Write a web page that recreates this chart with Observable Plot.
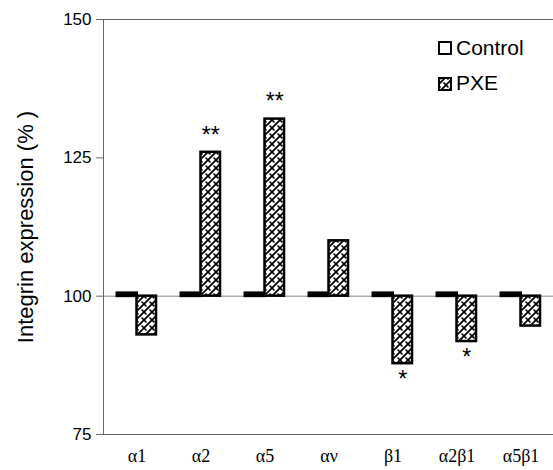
<!DOCTYPE html>
<html><head><meta charset="utf-8">
<script src="https://cdn.jsdelivr.net/npm/d3@7"></script>
<script src="https://cdn.jsdelivr.net/npm/@observablehq/plot@0.6"></script>
<style>
body{margin:0;background:#fff;}
#wrap{position:relative;width:553px;height:470px;font-family:"Liberation Sans",Arial,sans-serif;}
.sw{position:absolute;width:14px;height:14px;box-sizing:border-box;}
.lt{position:absolute;font-size:21px;line-height:20px;color:#000;white-space:nowrap;}
</style></head><body><div id="wrap"></div>
<script>
const categories = ["α1","α2","α5","αν","β1","α2β1","α5β1"];
const control = [100.5,100.5,100.5,100.5,100.5,100.5,100.5];
const pxe = [93,126,132,110,87.8,91.8,94.6];
const significance = ["","**","**","","*","*",""];
const yTicks = [75,100,125,150];
const seriesNames = ["Control","PXE"];
const yLabel = "Integrin expression (% )";

const rows = categories.map((c,i)=>({c, control:control[i], pxe:pxe[i], sig:significance[i]}));

const chart = Plot.plot({
  width:553, height:470, marginTop:19, marginBottom:36, marginLeft:103, marginRight:0,
  style:{fontFamily:"Liberation Sans, Arial, sans-serif", background:"#fff", color:"#000"},
  x:{domain:categories, paddingInner:0.393, paddingOuter:0.1965, label:null},
  y:{domain:[75,150], label:null},
  marks:[
    Plot.ruleY([100],{stroke:"#888", strokeWidth:1}),
    Plot.ruleY([75,150],{stroke:"#666", strokeWidth:1}),
    Plot.frame({anchor:"left", stroke:"#666"}),
    Plot.barY(rows,{x:"c", y1:100, y2:"control", insetRight:19.5, fill:"#fff", stroke:"#000", strokeWidth:3}),
    Plot.barY(rows,{x:"c", y1:100, y2:"pxe", insetLeft:19.5, fill:"url(#hatch)", stroke:"#000", strokeWidth:2.5}),
    Plot.text(rows.filter(d=>d.sig && d.pxe>100),{x:"c", y:"pxe", text:"sig", dx:9.75, dy:-17, fontSize:23}),
    Plot.text(rows.filter(d=>d.sig && d.pxe<100),{x:"c", y:"pxe", text:"sig", dx:9.75, dy:16, fontSize:23}),
    Plot.axisX({tickSize:0, tickPadding:15, fontSize:18, fontFamily:"Liberation Serif, Times New Roman, serif", label:null}),
    Plot.axisY({ticks:yTicks, tickSize:7, tickPadding:5, fontSize:17, label:null, stroke:"#666", fill:"#000"}),
    Plot.text([yLabel],{frameAnchor:"left", rotate:-90, dx:-71, lineAnchor:"bottom", textAnchor:"middle", fontSize:22})
  ]
});

const defs = document.createElementNS("http://www.w3.org/2000/svg","defs");
defs.innerHTML = `<pattern id="hatch" patternUnits="userSpaceOnUse" width="8" height="8">
<rect width="8" height="8" fill="#fff"/>
<path d="M0,8 L8,0 M-2,2 L2,-2 M6,10 L10,6" stroke="#000" stroke-width="1.8"/>
<path d="M0,0 L2.5,2.5 M5.5,5.5 L8,8" stroke="#000" stroke-width="1.6"/>
</pattern>`;
chart.insertBefore(defs, chart.firstChild);

const wrap = document.getElementById("wrap");
wrap.appendChild(chart);

// legend
const leg = [
  {name:seriesNames[0], sw:`<div class="sw" style="left:438px;top:41px;border:2px solid #000;background:#fff"></div>`, top:38},
  {name:seriesNames[1], sw:`<svg class="sw" style="left:438px;top:77px" width="14" height="14"><rect x="1" y="1" width="12" height="12" fill="url(#hatch)" stroke="#000" stroke-width="2"/></svg>`, top:73}
];
for (const l of leg) {
  wrap.insertAdjacentHTML("beforeend", l.sw + `<div class="lt" style="left:456px;top:${l.top}px">${l.name}</div>`);
}
</script>
</body></html>
